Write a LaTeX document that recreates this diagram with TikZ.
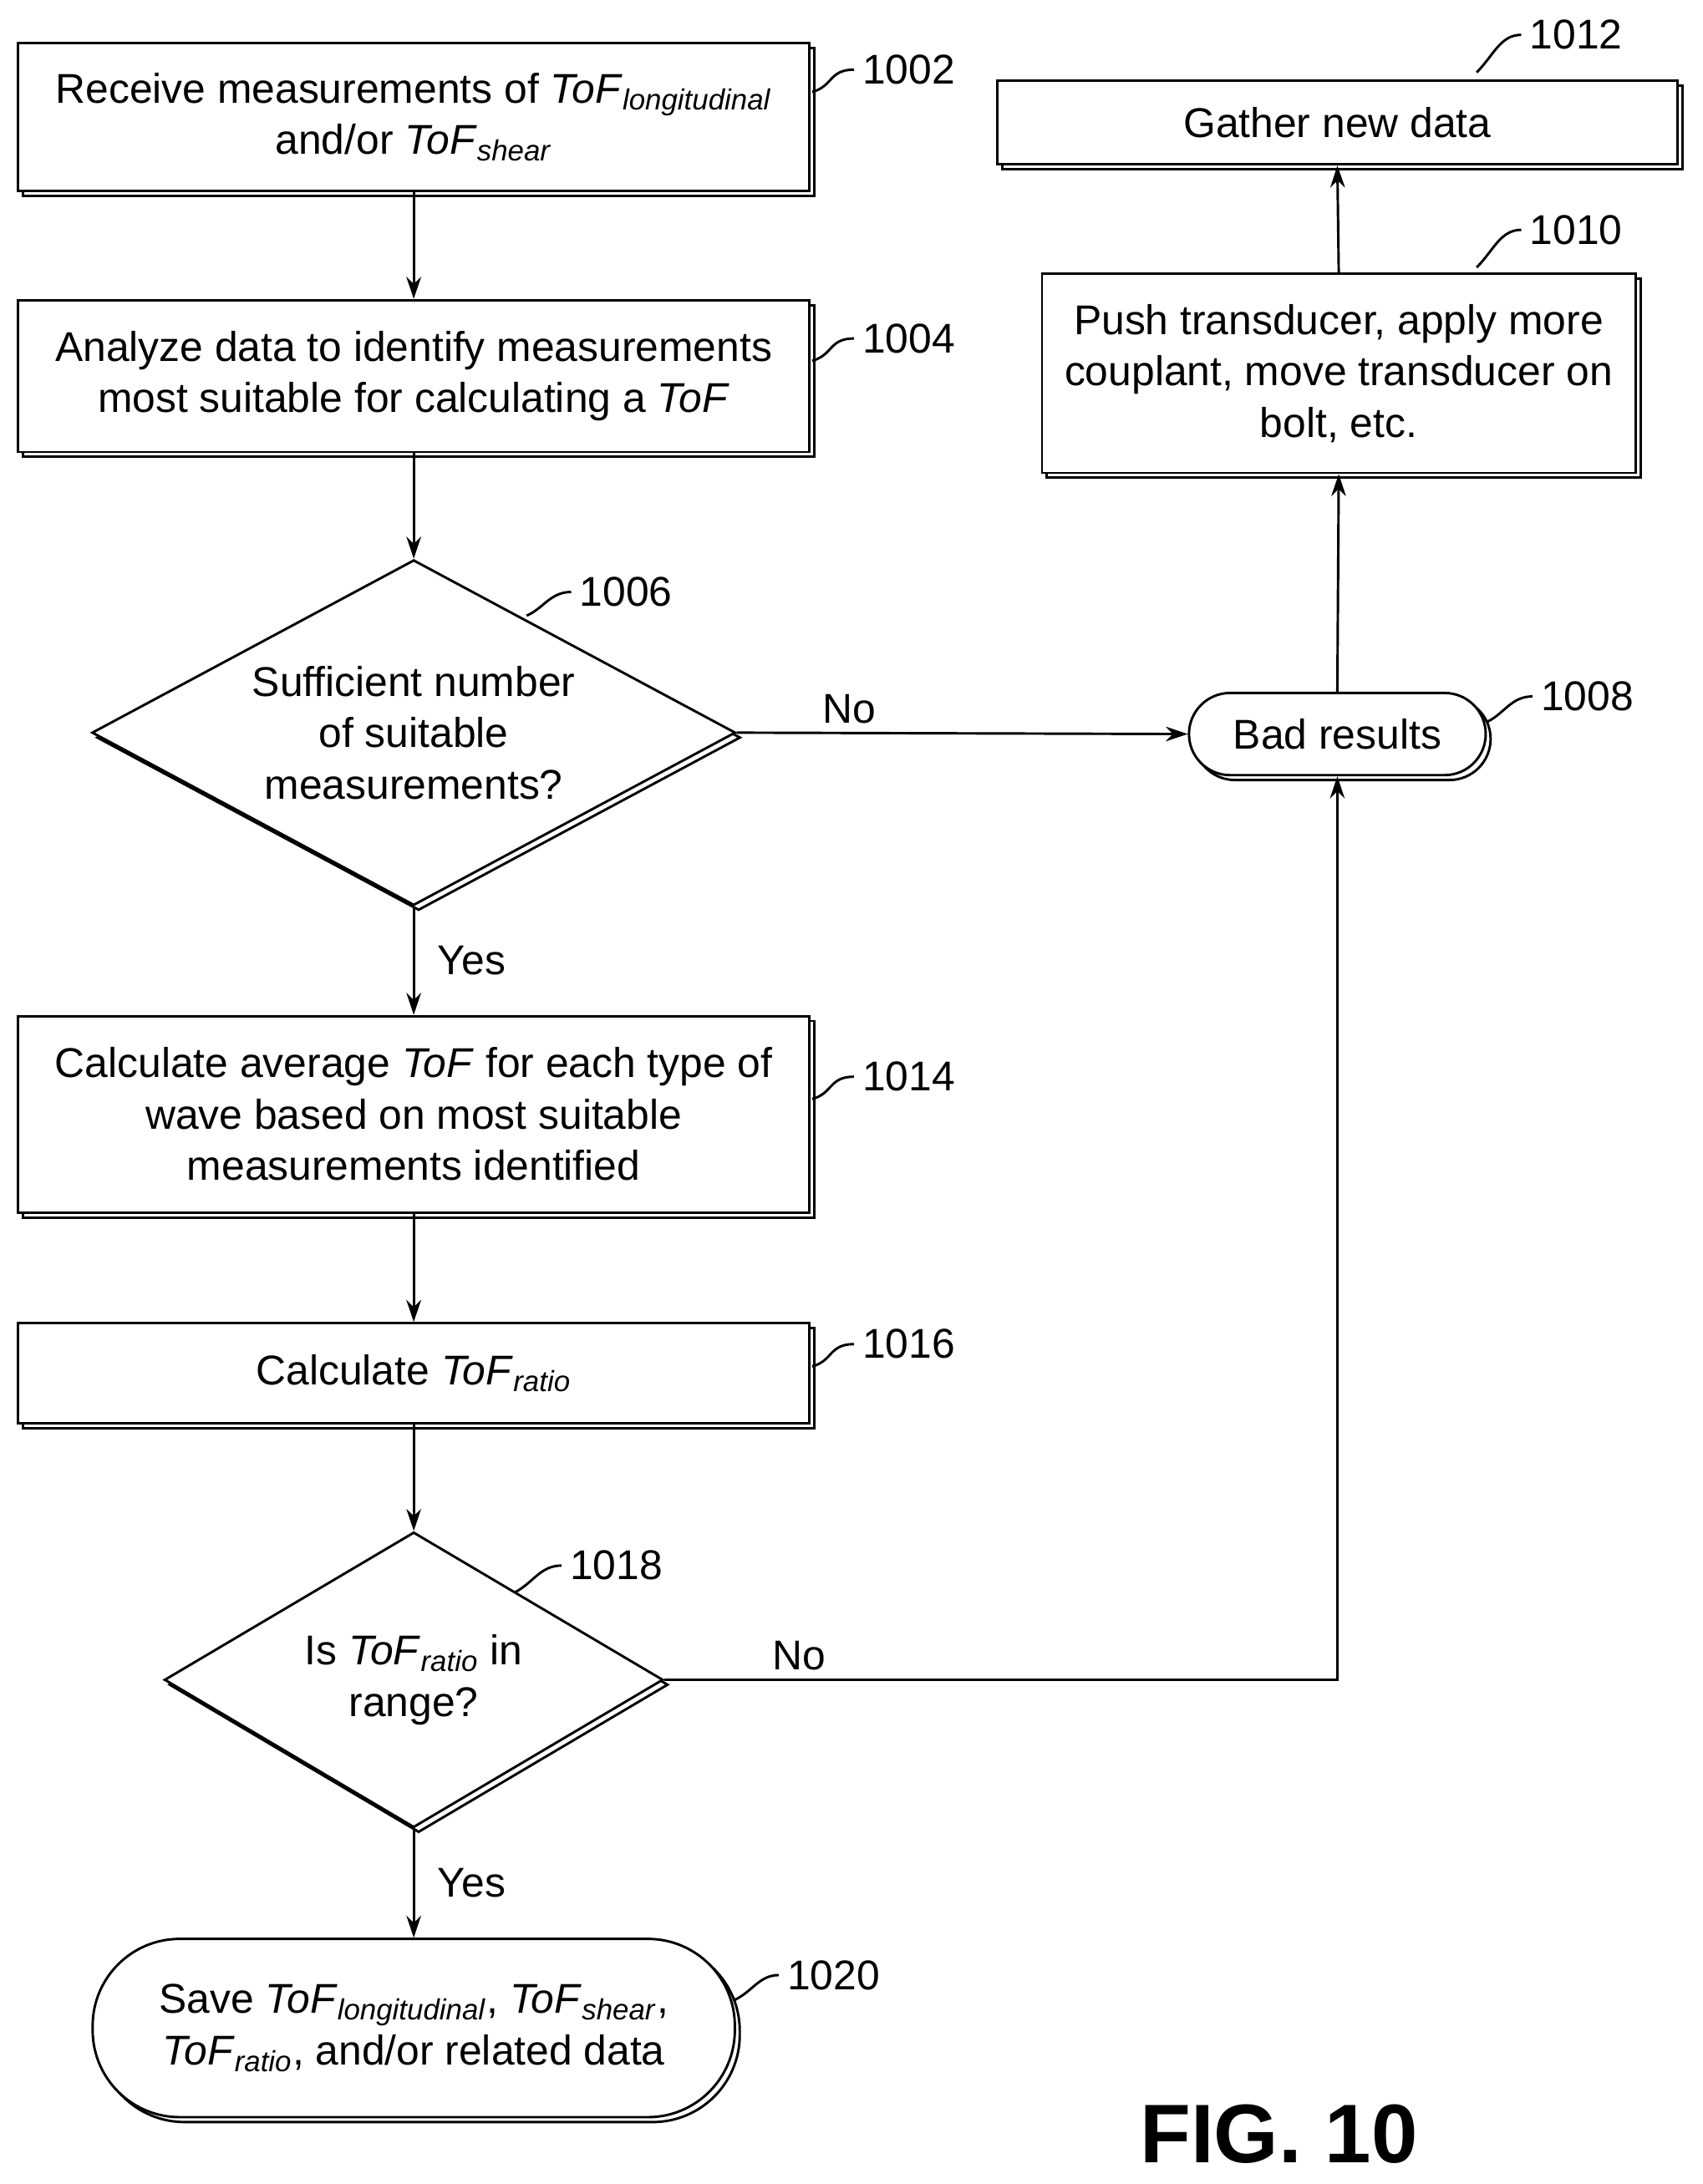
\documentclass[tikz,border=0pt]{standalone}
\usepackage{fontspec}
\setmainfont{Liberation Sans}
\usetikzlibrary{shapes.geometric,shadows,arrows.meta}
\newcommand{\tof}[1]{\textit{ToF}\textsubscript{\textit{#1}}}
\begin{document}
\begin{tikzpicture}[x=0.02cm,y=-0.02cm,
  every node/.style={font=\fontsize{17}{21}\selectfont},
  sh/.style={fill=white,draw,line width=1pt,copy shadow={shadow xshift=2pt,shadow yshift=-2pt}},
  box/.style={sh,rectangle,inner sep=0pt,align=center},
  dia/.style={sh,diamond,inner sep=0pt,align=center},
  arr/.style={-{Stealth[length=9pt,width=6pt]},line width=1pt},
  ref/.style={font=\fontsize{17}{21}\selectfont,anchor=west},
  lead/.style={line width=1pt}]
\useasboundingbox (0,0) rectangle (1222,1568);
\node[box,minimum width=568*0.02cm,minimum height=106*0.02cm] (n1002) at (297,84) {Receive measurements of \tof{longitudinal}\\and/or \tof{shear}};
\node[box,minimum width=568*0.02cm,minimum height=109*0.02cm] (n1004) at (297,270) {Analyze data to identify measurements\\most suitable for calculating a \textit{ToF}};
\node[dia,minimum width=462*0.02cm,minimum height=248*0.02cm,aspect=1.86] (n1006) at (297,526) {Sufficient number\\of suitable\\measurements?};
\node[box,rounded corners=0.59cm,minimum width=213*0.02cm,minimum height=59*0.02cm] (n1008) at (960,527) {Bad results};
\node[box,minimum width=426*0.02cm,minimum height=143*0.02cm] (n1010) at (961,268) {Push transducer, apply more\\couplant, move transducer on\\bolt, etc.};
\node[box,minimum width=488*0.02cm,minimum height=60*0.02cm] (n1012) at (960,88) {Gather new data};
\node[box,minimum width=568*0.02cm,minimum height=141*0.02cm] (n1014) at (297,800) {Calculate average \textit{ToF} for each type of\\wave based on most suitable\\measurements identified};
\node[box,minimum width=568*0.02cm,minimum height=72*0.02cm] (n1016) at (297,986) {Calculate \tof{ratio}};
\node[dia,minimum width=358*0.02cm,minimum height=212*0.02cm,aspect=1.69] (n1018) at (297,1206) {Is \tof{ratio} in\\range?};
\node[box,rounded corners=1.25cm,minimum width=461*0.02cm,minimum height=128*0.02cm] (n1020) at (297,1456) {Save \tof{longitudinal}, \tof{shear},\\\tof{ratio}, and/or related data};
\coordinate (c1) at (960,1206);
\draw[arr] (n1002) -- (n1004);
\draw[arr] (n1004) -- (n1006);
\draw[arr] (n1006) -- node[right,xshift=6pt] {Yes} (n1014);
\draw[arr] (n1014) -- (n1016);
\draw[arr] (n1016) -- (n1018);
\draw[arr] (n1018) -- node[right,xshift=6pt] {Yes} (n1020);
\draw[arr] (n1006.east) -- node[above,pos=0.25] {No} (n1008.west);
\draw[arr] (n1018.east) -- node[above,pos=0.2] {No} (c1) -- (n1008.south);
\draw[arr] (n1008.north) -- (n1010.south);
\draw[arr] (n1010.north) -- (n1012.south);
\node[ref] (r1002) at (613,50) {1002};
\node[ref] (r1004) at (613,243) {1004};
\node[ref] (r1006) at (410,425) {1006};
\node[ref] (r1008) at (1100,500) {1008};
\node[ref] (r1010) at (1092,165) {1010};
\node[ref] (r1012) at (1092,25) {1012};
\node[ref] (r1014) at (613,773) {1014};
\node[ref] (r1016) at (613,965) {1016};
\node[ref] (r1018) at (403,1124) {1018};
\node[ref] (r1020) at (559,1418) {1020};
\draw[lead] (r1002.west) .. controls (595,50) and (598,62) .. (583,66);
\draw[lead] (r1004.west) .. controls (595,243) and (598,255) .. (583,259);
\draw[lead] (r1006.west) .. controls (395,425) and (390,437) .. (378,442);
\draw[lead] (r1008.west) .. controls (1085,500) and (1080,512) .. (1068,518);
\draw[lead] (r1010.west) .. controls (1077,165) and (1072,180) .. (1060,192);
\draw[lead] (r1012.west) .. controls (1077,25) and (1072,40) .. (1060,52);
\draw[lead] (r1014.west) .. controls (595,773) and (598,785) .. (583,789);
\draw[lead] (r1016.west) .. controls (595,965) and (598,977) .. (583,981);
\draw[lead] (r1018.west) .. controls (388,1124) and (383,1136) .. (370,1143);
\draw[lead] (r1020.west) .. controls (545,1418) and (540,1430) .. (527,1436);
\node[font=\bfseries\fontsize{34}{40}\selectfont] (fig) at (918,1532) {FIG. 10};
\end{tikzpicture}
\end{document}
